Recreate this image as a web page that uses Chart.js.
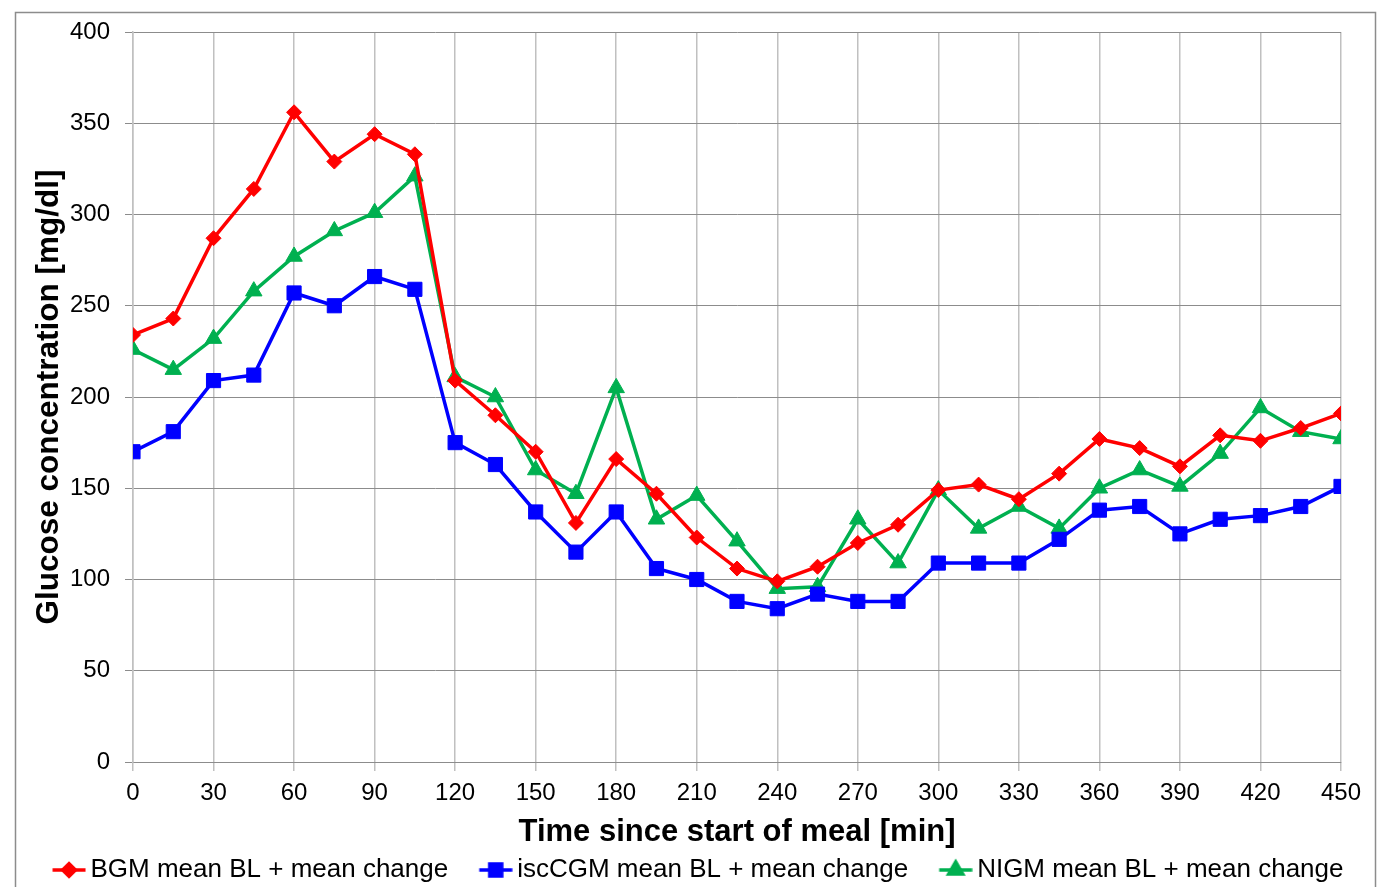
<!DOCTYPE html>
<html>
<head>
<meta charset="utf-8">
<script src="https://cdn.jsdelivr.net/npm/chart.js@4.4.1/dist/chart.umd.min.js"></script>
<style>
  html, body { margin: 0; padding: 0; background: #fff; }
  #wrap { width: 1387px; height: 887px; }
</style>
</head>
<body>
<div id="wrap"><canvas id="chartGlucosa"></canvas></div>
<script>
// tiempos (min) y valores
const tiempos = [0, 15, 30, 45, 60, 75, 90, 105, 120, 135, 150, 165, 180, 195, 210, 225,
                 240, 255, 270, 285, 300, 315, 330, 345, 360, 375, 390, 405, 420, 435, 450];

const bgm = [234, 243, 287, 314, 356, 329, 344, 333, 209, 190, 170, 131, 166, 147, 123, 106,
             99, 107, 120, 130, 149, 152, 144, 158, 177, 172, 162, 179, 176, 183, 191];

const iscCgm = [170, 181, 209, 212, 257, 250, 266, 259, 175, 163, 137, 115, 137, 106, 100, 88,
                84, 92, 88, 88, 109, 109, 109, 122, 138, 140, 125, 133, 135, 140, 151];

const nigm = [226, 215, 232, 258, 277, 291, 301, 321, 211, 200, 160, 147, 205, 133, 146, 121,
              95, 96, 133, 109, 149, 128, 140, 128, 150, 160, 151, 169, 194, 181, 177];

const etiquetas = ['BGM mean BL + mean change', 'iscCGM mean BL + mean change', 'NIGM mean BL + mean change'];
const colores = ['#ff0000', '#0000ff', '#00b050'];
const estilos = ['rectRot', 'rect', 'triangle'];
const radios = [7.5, 10, 9.5];

const FUENTE = "'Liberation Sans', Arial, sans-serif";

const puntos = (valores) => tiempos.map((t, i) => ({ x: t, y: valores[i] }));

// icono de leyenda: linea con marcador (la parte izquierda queda transparente)
const iconoLeyenda = (color, estilo, radio) => {
    const c = document.createElement('canvas');
    c.width = 66;
    c.height = 24;
    const g = c.getContext('2d');
    g.strokeStyle = color;
    g.fillStyle = color;
    g.lineWidth = 3.5;
    g.beginPath();
    g.moveTo(32.5, 12);
    g.lineTo(65.5, 12);
    g.stroke();
    Chart.helpers.drawPoint(g, { pointStyle: estilo, radius: radio * 0.85, borderWidth: 1 }, 49, 12);
    g.fill();
    return c;
};

const marco = {
    id: 'marco',
    afterDraw(chart) {
        const ctx = chart.ctx;
        ctx.save();
        ctx.strokeStyle = '#8c8c8c';
        ctx.lineWidth = 1.5;
        ctx.strokeRect(15.5, 12.5, 1360, 900);
        ctx.restore();
    }
};

const ctx = document.getElementById('chartGlucosa').getContext('2d');

const datos = {
    datasets: [bgm, iscCgm, nigm].map((serie, i) => ({
        label: etiquetas[i],
        data: puntos(serie),
        borderColor: colores[i],
        backgroundColor: colores[i],
        borderWidth: 3.5,
        pointStyle: estilos[i],
        pointRadius: radios[i],
        pointBorderWidth: 1,
        pointHoverRadius: radios[i],
        tension: 0
    }))
};

const iconos = colores.map((c, i) => iconoLeyenda(c, estilos[i], radios[i]));

const chartGlucosa = new Chart(ctx, {
    type: 'line',
    data: datos,
    plugins: [marco],
    options: {
        responsive: true,
        maintainAspectRatio: false,
        animation: false,
        layout: { padding: { left: 5, right: 20, top: 32, bottom: 0 } },
        plugins: {
            tooltip: { enabled: false },
            legend: {
                position: 'bottom',
                maxHeight: 37,
                labels: {
                    usePointStyle: true,
                    pointStyleWidth: 49,
                    padding: 7,
                    color: '#000',
                    font: { family: FUENTE, size: 26 },
                    generateLabels(chart) {
                        const items = Chart.defaults.plugins.legend.labels.generateLabels(chart);
                        items.forEach((it, i) => { it.pointStyle = iconos[i]; });
                        return items;
                    }
                }
            }
        },
        scales: {
            x: {
                type: 'linear',
                min: 0,
                max: 450,
                afterFit(scale) { scale.height = 88; },
                ticks: {
                    stepSize: 30,
                    color: '#000',
                    padding: 8,
                    maxRotation: 0,
                    font: { family: FUENTE, size: 24 }
                },
                grid: { color: '#c0c0c0', lineWidth: 1.5, tickLength: 9 },
                border: { color: '#8c8c8c', width: 1 },
                title: {
                    display: true,
                    text: 'Time since start of meal [min]',
                    color: '#000',
                    padding: { top: 0, bottom: -1 },
                    font: { family: FUENTE, size: 31, weight: 'bold' }
                }
            },
            y: {
                min: 0,
                max: 400,
                afterFit(scale) { scale.width = 128; },
                ticks: {
                    stepSize: 50,
                    color: '#000',
                    padding: 15,
                    font: { family: FUENTE, size: 24 }
                },
                grid: { color: '#8c8c8c', lineWidth: 1, tickLength: 8 },
                border: { color: '#c0c0c0', width: 1.5 },
                title: {
                    display: true,
                    text: 'Glucose concentration [mg/dl]',
                    color: '#000',
                    padding: { top: 25, bottom: 0 },
                    font: { family: FUENTE, size: 31.5, weight: 'bold' }
                }
            },
            // eje vacio a la derecha, solo reserva el margen del grafico
            derecha: {
                type: 'linear',
                position: 'right',
                min: 0,
                max: 1,
                afterFit(scale) { scale.width = 26; },
                ticks: { display: false },
                grid: { display: false, drawTicks: false },
                border: { display: false }
            }
        }
    }
});
</script>
</body>
</html>
